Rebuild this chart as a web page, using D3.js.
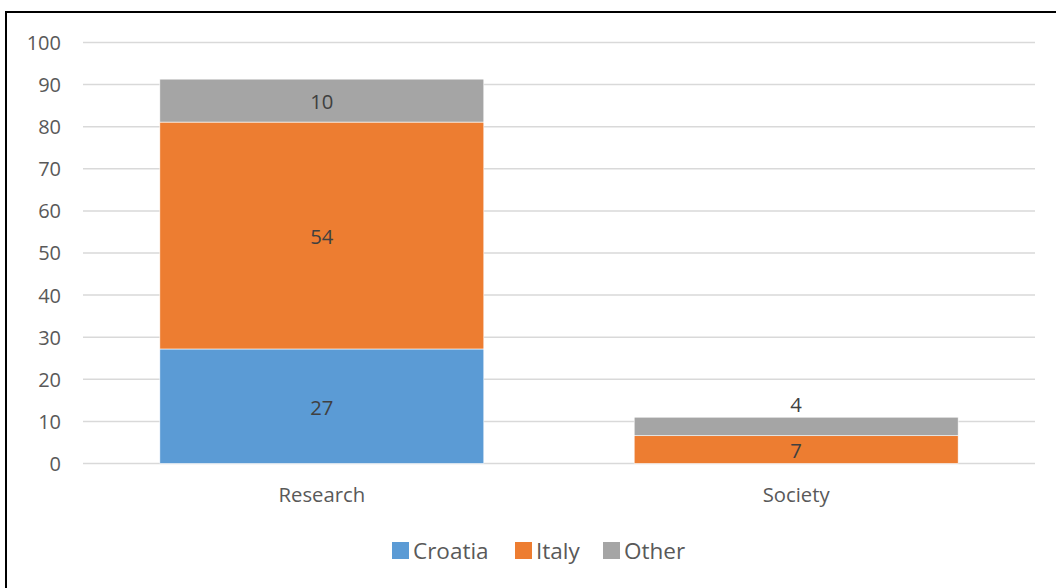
<!DOCTYPE html>
<html><head><meta charset="utf-8">
<script src="https://cdn.jsdelivr.net/npm/d3@7"></script>
<style>html,body{margin:0;padding:0;background:#fff;}svg{display:block;}</style>
</head><body>
<script>
const categories = ["Research", "Society"];
const seriesNames = ["Croatia", "Italy", "Other"];
const croatia = [27.2, 0];
const italy = [53.9, 6.6];
const other = [10.2, 4.4];
const yTicks = [0,10,20,30,40,50,60,70,80,90,100];
const colors = ["#5B9BD5", "#ED7D31", "#A5A5A5"];

const W = 1056, H = 588;
const svg = d3.select("body").append("svg").attr("width", W).attr("height", H);
const font = "'Open Sans', sans-serif";

// outer border
svg.append("rect").attr("x", 6).attr("y", 12).attr("width", 1200).attr("height", 700)
  .attr("fill", "#fff").attr("stroke", "#000").attr("stroke-width", 2);

const x = d3.scaleBand().domain(categories).range([83, 1035]).paddingInner(0.317).paddingOuter(0.162);
const y = d3.scaleLinear().domain([0, 100]).range([463.5, 42.5]);

// gridlines
svg.append("g").selectAll("line").data(yTicks).join("line")
  .attr("x1", 83).attr("x2", 1035)
  .attr("y1", d => y(d)).attr("y2", d => y(d))
  .attr("stroke", "#D9D9D9").attr("stroke-width", 1.5);

// y axis labels
const yAxis = d3.axisLeft(y).tickValues(yTicks).tickSize(0).tickPadding(0);
const ga = svg.append("g").attr("transform", "translate(61,0.5)").call(yAxis);
ga.select(".domain").remove();
ga.selectAll("text").attr("font-family", font).attr("font-size", 20).attr("fill", "#595959");

// x axis labels
const xAxis = d3.axisBottom(x).tickSize(0).tickPadding(0);
const gx = svg.append("g").attr("transform", "translate(0,487.5)").call(xAxis);
gx.select(".domain").remove();
gx.selectAll("text").attr("font-family", font).attr("font-size", 20.3).attr("fill", "#595959");

// stacked data
const rows = categories.map((c, i) => ({cat: c, Croatia: croatia[i], Italy: italy[i], Other: other[i]}));
const stack = d3.stack().keys(seriesNames)(rows);

const gBars = svg.append("g");
stack.forEach((layer, li) => {
  gBars.append("g").attr("fill", colors[li]).selectAll("rect").data(layer).join("rect")
    .attr("x", d => x(d.data.cat)).attr("width", x.bandwidth())
    .attr("y", d => y(d[1])).attr("height", d => y(d[0]) - y(d[1]))
    .attr("stroke", "#fff").attr("stroke-width", 0.6);
});

// data labels
const fmt = d3.format(".0f");
stack.forEach((layer, li) => {
  layer.forEach(d => {
    const v = d[1] - d[0];
    if (v <= 0) return;
    const h = y(d[0]) - y(d[1]);
    let cy = (y(d[0]) + y(d[1])) / 2 + 1.5;
    if (h < 22 && li === 2) cy = y(d[1]) - 12;
    svg.append("text").attr("x", x(d.data.cat) + x.bandwidth() / 2).attr("y", cy)
      .attr("dy", "0.36em").attr("text-anchor", "middle")
      .attr("font-family", font).attr("font-size", 20.3).attr("fill", "#404040")
      .text(fmt(v));
  });
});

// legend
const legendX = [392, 515, 603];
const lg = svg.append("g");
seriesNames.forEach((s, i) => {
  lg.append("rect").attr("x", legendX[i]).attr("y", 542).attr("width", 17).attr("height", 17).attr("fill", colors[i]);
  lg.append("text").attr("x", legendX[i] + 21).attr("y", 559)
    .attr("font-family", font).attr("font-size", 22.5).attr("fill", "#595959").text(s);
});
</script>
</body></html>
